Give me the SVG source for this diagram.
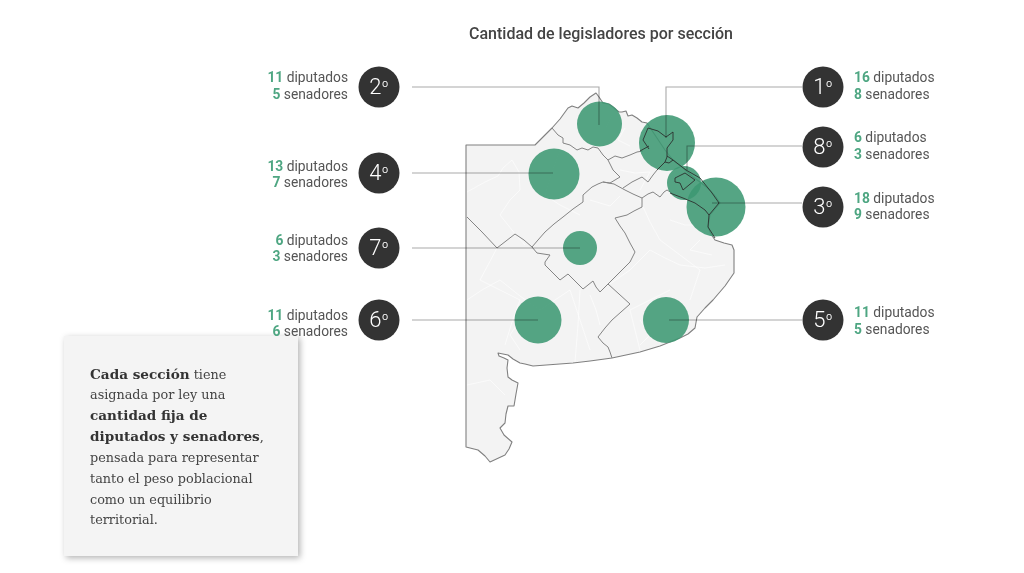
<svg xmlns="http://www.w3.org/2000/svg" width="1024" height="573" viewBox="0 0 1024 573">
<defs>
<style>
.sans{font-family:Roboto,"Liberation Sans",sans-serif}
.lab{font-size:13.8px;fill:#555}
.lab tspan.n{font-weight:700;fill:#4ea682}
.l{text-anchor:end}
.badge{fill:#333}
.bt{font-size:22px;fill:#fff;text-anchor:middle;font-weight:300}
.bt tspan{font-size:16px}
.sec{fill:none;stroke:#848484;stroke-width:1;stroke-linejoin:round}
.dark{fill:none;stroke:#2a2a2a;stroke-width:1;stroke-linejoin:round;opacity:.85}
.mun{fill:none;stroke:#fff;stroke-width:.7;stroke-linejoin:round;opacity:.85}
.bub{fill:#3c9872;opacity:.87}
.con{fill:none;stroke:#999;stroke-width:1.1;opacity:.85;mix-blend-mode:multiply}
.body{font-family:"DejaVu Serif","Liberation Serif",serif;font-size:12.8px;fill:#444}
.body .b{font-weight:700;fill:#333;font-size:13.6px}
</style>
<filter id="sh" x="-10%" y="-10%" width="125%" height="125%"><feDropShadow dx="2" dy="2" stdDeviation="3" flood-color="#000" flood-opacity=".3"/></filter>
</defs>
<text class="sans" x="601" y="39" text-anchor="middle" font-size="16" font-weight="500" fill="#444">Cantidad de legisladores por sección</text>
<g id="map">
<path d="M466 145L535 145L552 128L560 119L568 108L572 106L578 108L584 103L590 97L596 93L599 97L603 103L609 104L613 107L619 112L622 112L626 111L628 116L632 115L637 118L642 122L647 123L655 135L665 150L673 160L683 168L693 177L700 182L710 190L716 197L720 203L710 215L708 227L711 234L715 240L724 243L732 245L734 250L734 273L725 286L713 300L705 308L697 317L695 328L688 334L680 338L660 346L640 352L612 358L590 361L573 363L533 366L529 365L525 364L520 363L513 359L508 355L503 354L498 353L499 356L504 358L508 360L507 368L508 377L512 380L518 383L516 394L514 406L508 406L506 414L505 423L500 428L504 435L512 442L509 449L505 455L490 462L485 456L478 450L466 447Z" fill="#f3f3f3" stroke="#808080" stroke-width="1.1" stroke-linejoin="round"/>
<path class="mun" d="M467 192L485 182L498 176L503 168L512 160L519 172L520 190L510 200L500 215L512 230L525 245M497 248L488 265L480 280L500 290L520 300L512 322L505 345M560 150L552 172L545 195L560 205L580 215M467 300L482 290L500 280L520 296L540 310L555 300L570 290L580 320L590 350M467 385L490 380L505 395M580 290L578 325L575 362M640 200L650 222L660 240L680 255L700 270L695 285L690 300M610 284L630 270L650 250L665 258L680 265L705 268L725 265M640 350L635 330L630 310L650 300L670 290M620 170L635 173L650 172L640 190M600 140L606 128L612 115M670 220L685 225L700 225M590 295L596 310L600 325M625 128L618 140L630 146M590 200L610 206L620 196M520 320L510 335L520 350M640 320L650 335L640 345M700 240L690 250L712 255"/>
<path class="sec" d="M552 128L558 135L563 138L563 143L570 145L577 150L582 148L588 150L593 147L598 148L603 155L608 160L613 170L620 177L610 183L603 182L598 184L592 187L583 195L583 202L573 209L563 217L554 224L545 232L538 240L532 247L524 240L515 234L506 241L497 248L482 232L467 217"/>
<path class="sec" d="M532 247L537 253L550 255L545 262L545 265L552 272L560 280L568 274L575 281L583 289L593 281L596 287L600 292L608 284L619 273L630 262L635 252L630 243L625 233L620 226L615 218L627 215L634 211L642 207L642 198L633 194L625 190L614 184L603 182"/>
<path class="sec" d="M608 284L619 294L630 304L621 312L612 320L605 328L598 337L603 343L608 347L610 352L612 358"/>
<path class="sec" d="M642 198L648 194L653 192L660 197L664 192L667 190L672 193"/>
<path class="sec" d="M623 188L632 182L642 177L648 182L653 175L657 170M608 160L615 156L622 158L630 155L637 152L643 151"/>
</g>
<g id="bubbles">
<circle id="b2" class="bub" cx="599.5" cy="124" r="22.5"/>
<circle id="b1" class="bub" cx="667" cy="143" r="28"/>
<circle id="b4" class="bub" cx="554" cy="174" r="25.5"/>
<circle id="b7" class="bub" cx="580" cy="248" r="17"/>
<circle id="b8" class="bub" cx="684" cy="183" r="17"/>
<circle id="b3" class="bub" cx="716" cy="207" r="29.5"/>
<circle id="b6" class="bub" cx="538" cy="320" r="23.5"/>
<circle id="b5" class="bub" cx="666" cy="320" r="23"/>
</g>
<g id="conurbano">
<path class="dark" d="M648 128L658 131L666 137L673 132L673 140L667 148L667 157L665 162L669 163L673 160L667 156M665 162L657 170M648 128L643 140L649 149M649 146L640 151"/>
<path class="dark" d="M675 178L685 173L695 180L683 190L680 183L675 182Z"/>
<path class="dark" d="M673 160L686 170L700 178L712 193L719 203L709 215L708 227L715 238"/>
<path class="dark" d="M670 193L683 198L695 203L705 210L709 215"/>
</g>
<g id="connectors">
<path class="con" d="M412 87H599V125"/>
<path class="con" d="M802 87H666V138"/>
<path class="con" d="M802 146H687V170"/>
<path class="con" d="M802 203H712"/>
<path class="con" d="M412 173H553"/>
<path class="con" d="M412 248H580"/>
<path class="con" d="M412 320H538"/>
<path class="con" d="M802 320H669"/>
</g>
<g id="note">
<rect x="64" y="336" width="234" height="220" fill="#f4f4f4" filter="url(#sh)"/>
<text class="body" x="90" y="379"><tspan class="b">Cada sección</tspan> tiene</text>
<text class="body" x="90" y="399">asignada por ley una</text>
<text class="body" x="90" y="420"><tspan class="b">cantidad fija de</tspan></text>
<text class="body" x="90" y="441"><tspan class="b">diputados y senadores</tspan>,</text>
<text class="body" x="90" y="462">pensada para representar</text>
<text class="body" x="90" y="483">tanto el peso poblacional</text>
<text class="body" x="90" y="504">como un equilibrio</text>
<text class="body" x="90" y="524">territorial.</text>
</g>
<g id="s2"><circle class="badge" cx="379" cy="87" r="20.5"/><text class="sans bt" x="379" y="94">2<tspan dy="-2">º</tspan></text><text class="sans lab l" x="348" y="82"><tspan class="n">11</tspan> diputados</text><text class="sans lab l" x="348" y="99"><tspan class="n">5</tspan> senadores</text></g>
<g id="s4"><circle class="badge" cx="379" cy="173" r="20.5"/><text class="sans bt" x="379" y="180">4<tspan dy="-2">º</tspan></text><text class="sans lab l" x="348" y="171"><tspan class="n">13</tspan> diputados</text><text class="sans lab l" x="348" y="187"><tspan class="n">7</tspan> senadores</text></g>
<g id="s7"><circle class="badge" cx="379" cy="248" r="20.5"/><text class="sans bt" x="379" y="255">7<tspan dy="-2">º</tspan></text><text class="sans lab l" x="348" y="245"><tspan class="n">6</tspan> diputados</text><text class="sans lab l" x="348" y="261"><tspan class="n">3</tspan> senadores</text></g>
<g id="s6"><circle class="badge" cx="379" cy="320" r="20.5"/><text class="sans bt" x="379" y="327">6<tspan dy="-2">º</tspan></text><text class="sans lab l" x="348" y="320"><tspan class="n">11</tspan> diputados</text><text class="sans lab l" x="348" y="336"><tspan class="n">6</tspan> senadores</text></g>
<g id="s1"><circle class="badge" cx="823" cy="87" r="20.5"/><text class="sans bt" x="823" y="94">1<tspan dy="-2">º</tspan></text><text class="sans lab" x="854" y="82"><tspan class="n">16</tspan> diputados</text><text class="sans lab" x="854" y="99"><tspan class="n">8</tspan> senadores</text></g>
<g id="s8"><circle class="badge" cx="823" cy="147" r="20.5"/><text class="sans bt" x="823" y="154">8<tspan dy="-2">º</tspan></text><text class="sans lab" x="854" y="142"><tspan class="n">6</tspan> diputados</text><text class="sans lab" x="854" y="159"><tspan class="n">3</tspan> senadores</text></g>
<g id="s3"><circle class="badge" cx="823" cy="207" r="20.5"/><text class="sans bt" x="823" y="214">3<tspan dy="-2">º</tspan></text><text class="sans lab" x="854" y="203"><tspan class="n">18</tspan> diputados</text><text class="sans lab" x="854" y="219"><tspan class="n">9</tspan> senadores</text></g>
<g id="s5"><circle class="badge" cx="823" cy="320" r="20.5"/><text class="sans bt" x="823" y="327">5<tspan dy="-2">º</tspan></text><text class="sans lab" x="854" y="317"><tspan class="n">11</tspan> diputados</text><text class="sans lab" x="854" y="334"><tspan class="n">5</tspan> senadores</text></g>
</svg>
